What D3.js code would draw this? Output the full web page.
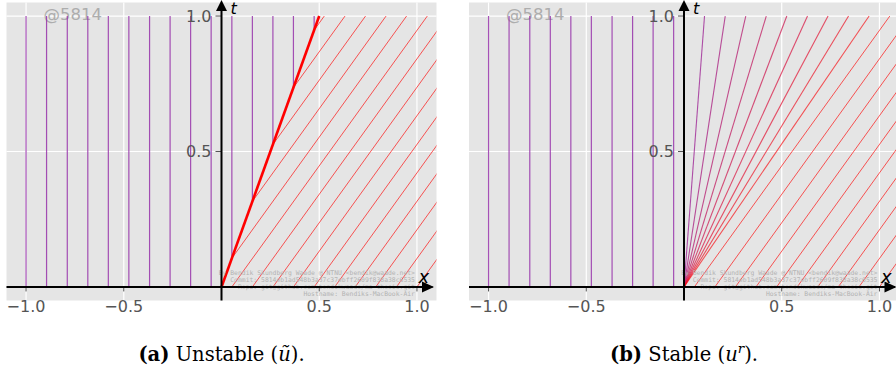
<!DOCTYPE html>
<html>
<head>
<meta charset="utf-8">
<script src="https://cdn.jsdelivr.net/npm/d3@7"></script>
<style>
  html, body { margin: 0; padding: 0; background: #ffffff; }
  svg { display: block; }
</style>
</head>
<body>
<svg id="fig" width="896" height="373"></svg>
<script>
// Characteristic starting points x0 on t = 0
const startPoints = [-1.0, -0.895, -0.789, -0.684, -0.579, -0.474, -0.368, -0.263, -0.158, -0.053,
                     0.053, 0.158, 0.263, 0.368, 0.474, 0.579, 0.684, 0.789, 0.895, 1.0];
// Riemann data: u = uLeft for x < 0, u = uRight for x > 0
const uLeft = 0;
const uRight = 1;
// Entropy-violating shock speed (uLeft + uRight) / 2
const shockSpeed = 0.5;
// Speeds of the drawn rarefaction-fan rays
const fanSpeeds = [0, 0.105, 0.211, 0.316, 0.421, 0.526, 0.632, 0.737, 0.842, 0.947];
// Axis ticks
const xTicks = [-1.0, -0.5, 0.5, 1.0];
const tTicks = [0.5, 1.0];
const xTickLabels = ["\u22121.0", "\u22120.5", "0.5", "1.0"];
const tTickLabels = ["0.5", "1.0"];
const captions = [
  { tag: "(a)", text: " Unstable (", sym: "\u0169", sup: null, tail: ")." },
  { tag: "(b)", text: " Stable (", sym: "u", sup: "r", tail: ")." }
];
const stampLines = [
  "By Bendik Skundberg Waade @ NTNU <bendik@waade.net>",
  "Commit: 5814eb1ad548b3a37c37ebff2609f838a38c6535",
  "Repo: git@github.com:bendikwaade/ma-thesis.git",
  "Hostname: Bendiks-MacBook-Air"
];
const stampTag = "@5814";

const purple = d3.rgb(150, 50, 170);
const red = d3.rgb(255, 0, 0);
const colorOf = d3.scaleLinear().domain([uLeft, uRight]).range([purple, red]).interpolate(d3.interpolateRgb);
const opacityOf = d3.scaleLinear().domain([uLeft, uRight]).range([0.85, 0.65]);

const svg = d3.select("#fig");
const panelLefts = [6.5, 469];
const panelWidth = 430;
const yTop = 2.5, yBottom = 300.5;

function shockHitTime(x0) { return x0 / (shockSpeed - uRight); }

panelLefts.forEach((left, pi) => {
  const x = d3.scaleLinear().domain([-1.1, 1.1]).range([left, left + panelWidth]);
  const y = d3.scaleLinear().domain([-0.05, 1.05]).range([yBottom, yTop]);
  const g = svg.append("g");
  const clipId = "clip" + pi;
  g.append("clipPath").attr("id", clipId)
    .append("rect").attr("x", x(-1.1)).attr("y", y(1.05))
    .attr("width", x(1.1) - x(-1.1)).attr("height", y(-0.05) - y(1.05));

  // background
  g.append("rect").attr("x", x(-1.1)).attr("y", y(1.05))
    .attr("width", x(1.1) - x(-1.1)).attr("height", y(-0.05) - y(1.05))
    .attr("fill", "#e5e5e5");

  // grid
  const grid = g.append("g").attr("stroke", "#ffffff").attr("stroke-width", 1.2);
  xTicks.forEach(v => grid.append("line").attr("x1", x(v)).attr("x2", x(v)).attr("y1", y(-0.05)).attr("y2", y(1.05)));
  tTicks.forEach(v => grid.append("line").attr("x1", x(-1.1)).attr("x2", x(1.1)).attr("y1", y(v)).attr("y2", y(v)));

  // stamp tag
  g.append("text").attr("x", x(-1.1) + 37).attr("y", 19.5)
    .attr("font-family", "DejaVu Sans").attr("font-size", 16.5)
    .attr("fill", "#adadad").text(stampTag);

  const lines = g.append("g").attr("clip-path", `url(#${clipId})`).attr("fill", "none");
  const seg = (x1, t1, x2, t2, color, width, op) =>
    lines.append("line").attr("x1", x(x1)).attr("y1", y(t1)).attr("x2", x(x2)).attr("y2", y(t2))
      .attr("stroke", color).attr("stroke-width", width).attr("stroke-opacity", op);

  if (pi === 0) {
    // unstable shock solution
    startPoints.filter(v => v > 0).forEach(x0 =>
      seg(x0, 0, x0 + uRight, 1, colorOf(uRight), 1, opacityOf(uRight)));
    startPoints.filter(v => v < 0 && shockHitTime(v) <= 1).forEach(x0 => {
      const tHit = shockHitTime(x0);
      seg(x0 + uRight * tHit, tHit, x0 + uRight, 1, colorOf(uRight), 1, opacityOf(uRight));
    });
    startPoints.filter(v => v < 0).forEach(x0 =>
      seg(x0, 0, x0, 1, colorOf(uLeft), 1.2, opacityOf(uLeft)));
    startPoints.filter(v => v > 0 && v / shockSpeed <= 1).forEach(x0 =>
      seg(x0, x0 / shockSpeed, x0, 1, colorOf(uLeft), 1.2, opacityOf(uLeft)));
    seg(0, 0, shockSpeed, 1, "#ff0000", 2.6, 1);
  } else {
    // rarefaction solution
    startPoints.filter(v => v > 0).forEach(x0 =>
      seg(x0, 0, x0 + uRight, 1, colorOf(uRight), 1, opacityOf(uRight)));
    startPoints.filter(v => v < 0).forEach(x0 =>
      seg(x0, 0, x0, 1, colorOf(uLeft), 1.2, opacityOf(uLeft)));
    fanSpeeds.forEach(u => seg(0, 0, u, 1, colorOf(u), 1.1, opacityOf(u)));
  }

  // provenance stamp
  const stamp = g.append("g").attr("font-family", "DejaVu Sans Mono").attr("font-size", 6.4)
    .attr("fill", "#b3b3b3").attr("text-anchor", "end");
  stampLines.forEach((s, i) => stamp.append("text").attr("x", x(1.0) - 2).attr("y", 274.5 + i * 7).text(s));

  // ticks and tick labels
  const tickCol = "#555555";
  xTicks.forEach((v, i) => {
    g.append("line").attr("x1", x(v)).attr("x2", x(v)).attr("y1", y(0)).attr("y2", y(0) + 4.5)
      .attr("stroke", tickCol).attr("stroke-width", 1);
    g.append("text").attr("x", x(v)).attr("y", 311.5).attr("text-anchor", "middle")
      .attr("font-family", "DejaVu Sans").attr("font-size", 16).attr("fill", tickCol).text(xTickLabels[i]);
  });
  tTicks.forEach((v, i) => {
    g.append("line").attr("x1", x(0) - 6).attr("x2", x(0)).attr("y1", y(v)).attr("y2", y(v))
      .attr("stroke", tickCol).attr("stroke-width", 1);
    g.append("text").attr("x", x(0) - 10).attr("y", y(v) + 5.8).attr("text-anchor", "end")
      .attr("font-family", "DejaVu Sans").attr("font-size", 16).attr("fill", tickCol).text(tTickLabels[i]);
  });

  // axes with arrow heads
  g.append("line").attr("x1", x(-1.1)).attr("x2", x(1.1) - 4).attr("y1", y(0)).attr("y2", y(0))
    .attr("stroke", "#000").attr("stroke-width", 2);
  g.append("line").attr("x1", x(0)).attr("x2", x(0)).attr("y1", y(-0.05)).attr("y2", 6)
    .attr("stroke", "#000").attr("stroke-width", 2);
  const ax = x(1.1) - 2.5, ay = y(0);
  g.append("path").attr("d", `M${ax},${ay} L${ax - 12},${ay - 5.5} L${ax - 12},${ay + 5.5} Z`).attr("fill", "#000");
  const tx = x(0);
  g.append("path").attr("d", `M${tx},0 L${tx - 5.5},11 L${tx + 5.5},11 Z`).attr("fill", "#000");

  g.append("text").attr("x", tx + 9).attr("y", 13.5).attr("font-family", "DejaVu Sans")
    .attr("font-style", "italic").attr("font-size", 16).attr("fill", "#000").text("t");
  g.append("text").attr("x", x(1.1) - 18).attr("y", 283).attr("font-family", "DejaVu Sans")
    .attr("font-style", "italic").attr("font-size", 18).attr("fill", "#000").text("x");

  // caption
  const c = captions[pi];
  const cap = g.append("text").attr("x", x(0)).attr("y", 361).attr("text-anchor", "middle")
    .attr("font-family", "DejaVu Serif").attr("font-size", 19.5).attr("fill", "#000");
  cap.append("tspan").attr("font-weight", "bold").text(c.tag);
  cap.append("tspan").text(c.text);
  cap.append("tspan").attr("font-style", "italic").text(c.sym);
  if (c.sup) cap.append("tspan").attr("font-style", "italic").attr("font-size", 13.5).attr("dy", -8).text(c.sup);
  cap.append("tspan").attr("dy", c.sup ? 8 : 0).text(c.tail);
});
</script>
</body>
</html>
